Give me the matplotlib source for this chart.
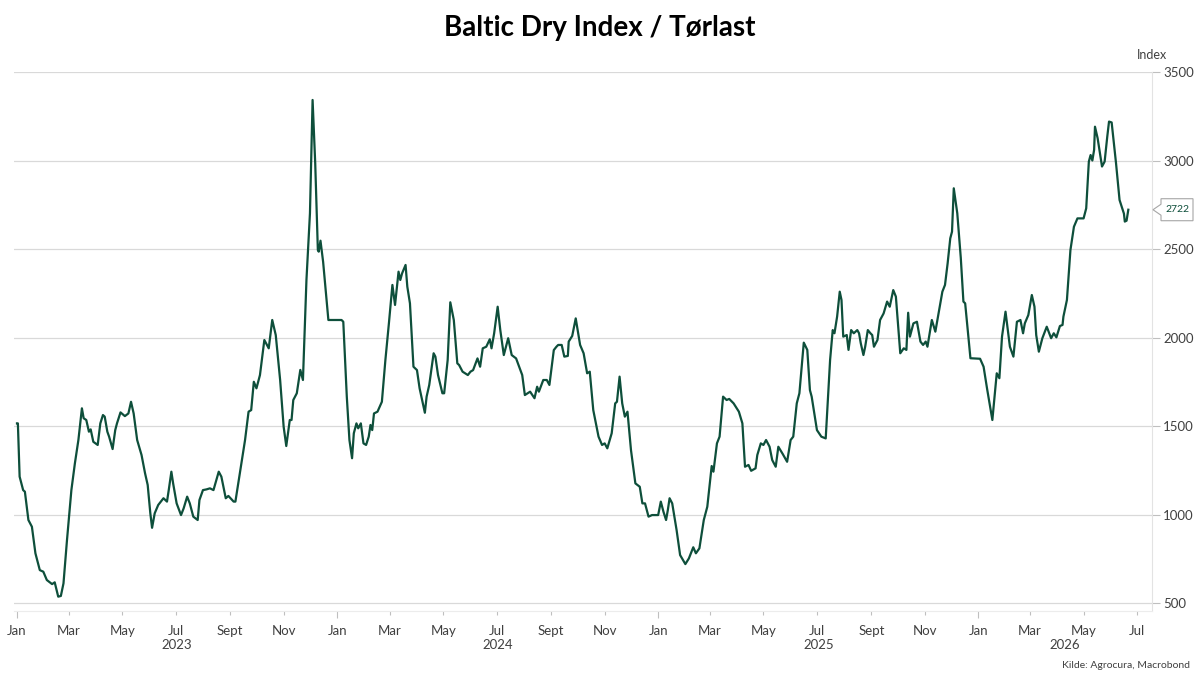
import matplotlib
matplotlib.use('Agg')
import matplotlib.pyplot as plt
import matplotlib.dates as mdates
import matplotlib.transforms as mtransforms
from matplotlib.patches import Polygon
import pandas as pd

plt.rcParams['font.family'] = ['Lato', 'DejaVu Sans']

# Baltic Dry Index (days counted from 1 Jan 2023)
start = pd.Timestamp('2023-01-01')
day_offset = [
    0, 1, 3, 7, 9, 13, 17, 21, 26, 30, 34, 40, 43, 47, 50, 53, 57, 62, 66, 70,
    74, 76, 79, 82, 84, 87, 92, 95, 98, 100, 103, 105, 109, 112, 114, 118, 123, 127, 130, 133,
    137, 142, 146, 149, 152, 154, 157, 161, 167, 171, 173, 176, 178, 182, 187, 190, 194, 197, 201, 206,
    208, 212, 216, 220, 224, 230, 233, 238, 241, 247, 249, 254, 260, 264, 267, 270, 273, 277, 282, 287,
    291, 295, 300, 304, 307, 311, 313, 315, 319, 323, 326, 330, 334, 337, 340, 343, 344, 346, 349, 355,
    359, 370, 372, 376, 379, 382, 384, 387, 389, 392, 395, 398, 401, 403, 405, 407, 411, 416, 420, 424,
    428, 431, 435, 437, 439, 443, 445, 448, 452, 456, 459, 465, 467, 470, 475, 477, 480, 485, 487, 491,
    494, 498, 502, 504, 508, 514, 517, 520, 525, 528, 531, 535, 539, 541, 544, 548, 551, 555, 560, 564,
    569, 576, 579, 585, 590, 593, 595, 600, 604, 607, 612, 615, 617, 621, 624, 628, 629, 633, 637, 642,
    646, 650, 653, 657, 663, 667, 670, 673, 678, 682, 684, 687, 690, 693, 696, 700, 705, 710, 713, 716,
    720, 724, 731, 734, 737, 740, 742, 744, 747, 752, 756, 762, 766, 771, 774, 778, 783, 787, 792, 794,
    798, 801, 805, 809, 812, 817, 823, 827, 830, 834, 837, 842, 844, 848, 851, 854, 858, 861, 865, 868,
    873, 878, 882, 885, 889, 892, 897, 901, 904, 906, 912, 917, 922, 924, 927, 930, 932, 935, 938, 940,
    942, 946, 948, 951, 954, 958, 960, 962, 965, 967, 970, 973, 975, 977, 981, 984, 988, 992, 995, 999,
    1002, 1005, 1007, 1011, 1014, 1016, 1018, 1022, 1026, 1030, 1033, 1036, 1038, 1043, 1047, 1051, 1055, 1058, 1061, 1064,
    1066, 1068, 1072, 1076, 1079, 1081, 1087, 1098, 1102, 1106, 1112, 1117, 1120, 1123, 1127, 1132, 1136, 1140, 1144, 1147,
    1149, 1153, 1157, 1160, 1162, 1165, 1169, 1174, 1179, 1182, 1185, 1189, 1192, 1193, 1197, 1201, 1205, 1209, 1216, 1219,
    1222, 1224, 1226, 1228, 1229, 1232, 1237, 1240, 1243, 1245, 1248, 1253, 1257, 1260, 1262, 1263, 1265, 1267,
]
bdi = [
    1515, 1515, 1214, 1138, 1129, 969, 931, 781, 686, 677, 630, 607, 617, 536, 540, 611, 856, 1138, 1289, 1421,
    1600, 1544, 1534, 1468, 1481, 1411, 1393, 1515, 1562, 1553, 1468, 1440, 1370, 1477, 1515, 1577, 1556, 1571, 1637, 1571,
    1421, 1336, 1233, 1167, 1007, 925, 1007, 1054, 1092, 1073, 1138, 1242, 1176, 1063, 997, 1035, 1101, 1063, 988, 969,
    1082, 1138, 1142, 1148, 1138, 1242, 1214, 1092, 1105, 1073, 1073, 1233, 1421, 1581, 1590, 1750, 1713, 1788, 1986, 1939,
    2099, 2014, 1760, 1496, 1387, 1534, 1534, 1647, 1685, 1817, 1760, 2325, 2702, 3342, 2984, 2494, 2485, 2547, 2428, 2099,
    2099, 2099, 2089, 1666, 1421, 1318, 1459, 1515, 1487, 1515, 1402, 1393, 1440, 1506, 1477, 1571, 1581, 1637, 1873, 2080,
    2297, 2184, 2372, 2325, 2362, 2410, 2287, 2193, 1835, 1816, 1713, 1575, 1666, 1732, 1911, 1892, 1788, 1685, 1685, 1873,
    2199, 2099, 1854, 1845, 1807, 1788, 1807, 1816, 1882, 1835, 1939, 1948, 1990, 1939, 2024, 2174, 2042, 1901, 1996, 1901,
    1882, 1788, 1675, 1694, 1657, 1722, 1694, 1760, 1760, 1732, 1929, 1948, 1958, 1958, 1892, 1896, 1977, 2009, 2108, 1958,
    1911, 1798, 1807, 1590, 1440, 1393, 1402, 1374, 1459, 1628, 1637, 1779, 1628, 1553, 1581, 1364, 1176, 1157, 1063, 1063,
    988, 997, 997, 1073, 1016, 969, 1025, 1092, 1063, 912, 771, 720, 752, 815, 781, 809, 969, 1044, 1274, 1242,
    1402, 1440, 1666, 1647, 1653, 1628, 1581, 1515, 1270, 1280, 1247, 1261, 1336, 1402, 1393, 1421, 1383, 1308, 1270, 1383,
    1342, 1298, 1421, 1440, 1628, 1685, 1971, 1930, 1703, 1666, 1477, 1440, 1430, 1609, 1873, 2042, 2024, 2118, 2259, 2212,
    2005, 2014, 1930, 2042, 2024, 2042, 2024, 1967, 1901, 1948, 2042, 2024, 2014, 1948, 1986, 2099, 2136, 2203, 2174, 2268,
    2231, 2042, 1911, 1939, 1930, 2140, 2005, 2080, 2089, 1977, 1958, 1977, 1948, 2099, 2033, 2146, 2259, 2297, 2419, 2560,
    2598, 2843, 2702, 2450, 2203, 2193, 1883, 1880, 1835, 1710, 1534, 1798, 1770, 2005, 2146, 1948, 1892, 2089, 2099, 2024,
    2080, 2127, 2240, 2174, 2014, 1920, 1996, 2061, 1996, 2024, 2001, 2065, 2071, 2118, 2212, 2494, 2626, 2673, 2673, 2730,
    2994, 3031, 3000, 3060, 3191, 3126, 2966, 2994, 3135, 3220, 3215, 2984, 2777, 2730, 2700, 2655, 2660, 2722,
]
dates = start + pd.to_timedelta(day_offset, unit='D')

month_names = {1: 'Jan', 3: 'Mar', 5: 'May', 7: 'Jul', 9: 'Sept', 11: 'Nov'}
years = [2023, 2024, 2025, 2026]
y_ticks = [500, 1000, 1500, 2000, 2500, 3000, 3500]

line_col = '#0e4f3b'
text_col = '#404040'
grid_col = '#d9d9d9'

fig = plt.figure(figsize=(12, 6.83), dpi=100)
ax = fig.add_axes([14 / 1200, 1 - 611 / 683, (1152 - 14) / 1200, (611 - 72) / 683])

ax.plot(dates, bdi, color=line_col, lw=1.6, solid_joinstyle='round')

x_lo = pd.Timestamp('2022-12-28 14:00')
x_hi = pd.Timestamp('2026-07-18')
ax.set_xlim(x_lo, x_hi)
ax.set_ylim(455, 3500)

ax.yaxis.tick_right()
ax.set_yticks(y_ticks)
ax.set_yticklabels([str(v) for v in y_ticks])
ax.tick_params(axis='y', length=6, width=0.8, color='#bfbfbf', pad=2,
               labelsize=9.5, labelcolor=text_col)
ax.grid(axis='y', color=grid_col, lw=0.9)
ax.set_axisbelow(True)

fmt = mdates.DateFormatter('%b')
ax.xaxis.set_major_locator(mdates.MonthLocator(bymonth=[1]))
ax.xaxis.set_minor_locator(mdates.MonthLocator(bymonth=[3, 5, 7, 9, 11]))
ax.xaxis.set_major_formatter(plt.FuncFormatter(lambda v, p: month_names[mdates.num2date(v).month]))
ax.xaxis.set_minor_formatter(plt.FuncFormatter(lambda v, p: month_names[mdates.num2date(v).month]))
ax.tick_params(axis='x', which='major', length=5, width=0.8, color='#bfbfbf', pad=5,
               labelsize=9.5, labelcolor=text_col)
ax.tick_params(axis='x', which='minor', length=3, width=0.8, color='#bfbfbf', pad=7,
               labelsize=9.5, labelcolor=text_col)

for side in ['top', 'left']:
    ax.spines[side].set_visible(False)
ax.spines['right'].set_color('#e3e3e3')
ax.spines['bottom'].set_color('#ececec')

# year labels centred under the visible part of each year
trans = mtransforms.blended_transform_factory(ax.transData, ax.transAxes)
for yr in years:
    a = max(pd.Timestamp(f'{yr}-01-01'), x_lo)
    b = min(pd.Timestamp(f'{yr + 1}-01-01'), x_hi)
    mid = a + (b - a) / 2
    ax.text(mid, -0.063, str(yr), transform=trans, ha='center', va='center',
            fontsize=9.5, color=text_col)

# last value tag on the right axis
last = bdi[-1]
px = 1 / (1152 - 14)
tag_t = mtransforms.blended_transform_factory(ax.transAxes, ax.transData)
h = 11 / 539 * (3500 - 455)
tag = Polygon([(1 + 1 * px, last), (1 + 9 * px, last + h * 0.5), (1 + 9 * px, last + h),
               (1 + 41 * px, last + h), (1 + 41 * px, last - h), (1 + 9 * px, last - h),
               (1 + 9 * px, last - h * 0.5)], closed=True, transform=tag_t,
              facecolor='white', edgecolor='#a6a6a6', lw=0.8, clip_on=False, zorder=5)
ax.add_patch(tag)
ax.text(1 + 25 * px, last, str(last), transform=tag_t, ha='center', va='center',
        fontsize=7.5, color=line_col, zorder=6, clip_on=False)

ax.text(1.0, 1.0 + 17 / 539, 'Index', transform=ax.transAxes, ha='center', va='center',
        fontsize=9, color=text_col)

fig.text(0.5, 1 - 28 / 683, 'Baltic Dry Index / Tørlast', ha='center', va='center',
         fontsize=20, fontweight='bold', color='black')
fig.text(1190 / 1200, 1 - 666 / 683, 'Kilde: Agrocura, Macrobond', ha='right', va='center',
         fontsize=7.5, color=text_col)

fig.savefig('out.png', dpi=100)
